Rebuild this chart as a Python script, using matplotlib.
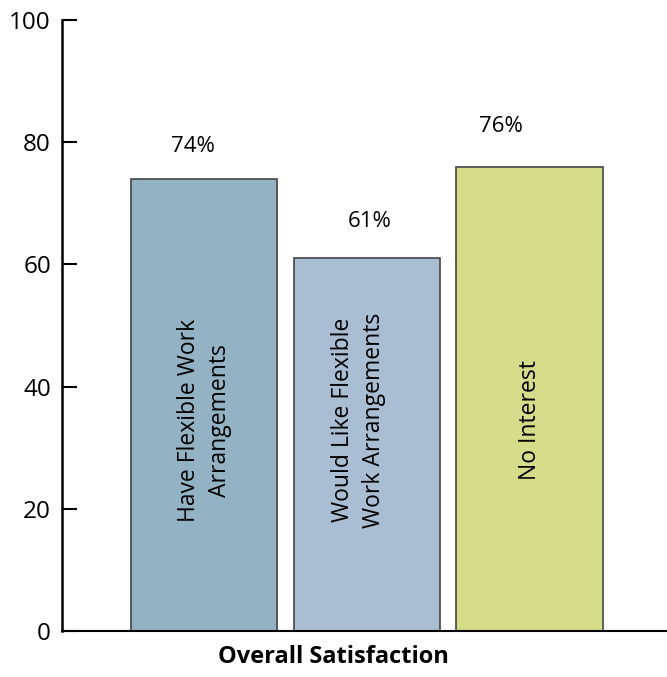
import matplotlib.pyplot as plt

plt.rcParams['font.family'] = ['Open Sans', 'DejaVu Sans']

groups = ['Have Flexible Work\nArrangements',
          'Would Like Flexible\nWork Arrangements',
          'No Interest']
satisfaction = [74, 61, 76]
colors = ['#93b3c4', '#a9bdd3', '#d5dc8a']
yticks = [0, 20, 40, 60, 80, 100]

fig = plt.figure(figsize=(6.67, 6.77), dpi=100)
ax = fig.add_axes([0.093, 0.068, 0.907, 0.9025])

pos = range(len(satisfaction))
bars = ax.bar(pos, satisfaction, width=0.9, color=colors,
              edgecolor='#444444', linewidth=1.2)

# percent labels above each bar
label_dx = [-8, 2, -21]
label_dy = [16, 19, 21]
for b, v, dx, dy in zip(bars, satisfaction, label_dx, label_dy):
    ax.annotate(f'{v}%', (b.get_x() + b.get_width() / 2, v),
                xytext=(dx, dy), textcoords='offset points',
                ha='center', va='bottom', fontsize=16)

# group names written vertically inside the bars
label_x = [0, -0.05, 0]
for p, name, off in zip(pos, groups, label_x):
    ax.text(p + off, 34.5, name, rotation=90, ha='center', va='center',
            fontsize=16.5, multialignment='center', linespacing=1.4)

ax.set_xlim(-0.874, 2.844)
ax.set_ylim(0, 100)
ax.set_yticks(yticks)
ax.set_xticks([])
ax.tick_params(axis='y', direction='in', length=11, width=1.5,
               labelsize=17.5, pad=8)

for s in ['top', 'right']:
    ax.spines[s].set_visible(False)
ax.spines['left'].set_linewidth(1.8)
ax.spines['bottom'].set_linewidth(1.5)

fig.text(0.5, 0.02, 'Overall Satisfaction', ha='center',
         fontsize=17, fontweight='bold')

fig.savefig('out.png', dpi=100)
